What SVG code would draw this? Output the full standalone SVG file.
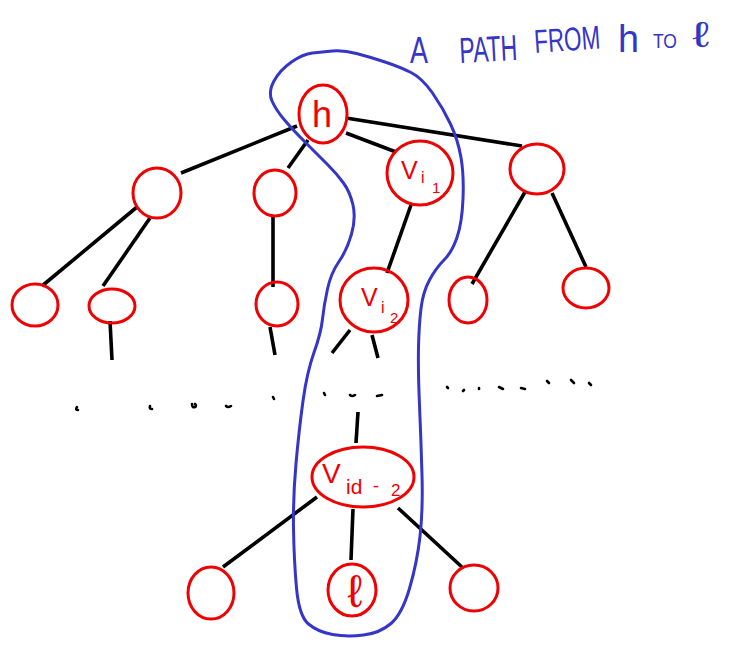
<svg xmlns="http://www.w3.org/2000/svg" width="731" height="647" viewBox="0 0 731 647">
<style>
.edge{stroke:#000;stroke-width:3.6;stroke-linecap:butt;fill:none}
.node{stroke:#f00000;stroke-width:3;fill:none}
.lbl{fill:#f00000;font-family:"Liberation Sans","DejaVu Sans",sans-serif}
.dot{stroke:#000;stroke-width:2.6;stroke-linecap:round;fill:none}
.loop{stroke:#3535c8;stroke-width:3;fill:none;stroke-linejoin:round}
.ttl{fill:#3535c8;font-family:"Liberation Sans","DejaVu Sans",sans-serif}
</style>
<rect width="731" height="647" fill="#fff"/>
<g id="connectors">
<path class="edge" d="M297,126 L181,173"/>
<path class="edge" d="M308,140 L288,168"/>
<path class="edge" d="M346,133 L396,152"/>
<path class="edge" d="M346,118 L522,146"/>
<path class="edge" d="M137,207 L42,286"/>
<path class="edge" d="M150,218 L103,286"/>
<path class="edge" d="M110,321 L112,360"/>
<path class="edge" d="M273,217 L273,287"/>
<path class="edge" d="M270,327 L275,355"/>
<path class="edge" d="M411,205 L387,273"/>
<path class="edge" d="M350,330 L332,353"/>
<path class="edge" d="M372,335 L378,358"/>
<path class="edge" d="M525,192 L472,284"/>
<path class="edge" d="M552,193 L586,267"/>
<path class="edge" d="M358,412 L356,443"/>
<path class="edge" d="M317,497 L223,567"/>
<path class="edge" d="M353,509 L351,560"/>
<path class="edge" d="M398,508 L463,568"/>
</g>
<g id="dots">
<path class="dot" d="M77,407 q-2,3 1,3"/>
<path class="dot" d="M150,406 q-1,3 2,3"/>
<path class="dot" d="M192,404 q0,4 3,3 q2,-1 0,-3"/>
<path class="dot" d="M226,406 q2,2 5,0"/>
<path class="dot" d="M273,397 l1,2"/>
<path class="dot" d="M324,393 l1,2"/>
<path class="dot" d="M350,395 q2,2 5,0"/>
<path class="dot" d="M377,396 l5,-1"/>
<path class="dot" d="M447,387 l1,1"/>
<path class="dot" d="M463,391 l1,-1"/>
<path class="dot" d="M479,388 l0,1"/>
<path class="dot" d="M499,387 l4,2"/>
<path class="dot" d="M521,388 l4,1"/>
<path class="dot" d="M547,381 l2,2"/>
<path class="dot" d="M571,380 l3,3"/>
<path class="dot" d="M589,383 l2,2"/>
</g>
<g id="n_h">
<ellipse class="node" cx="323" cy="114" rx="24" ry="29"/>
<text class="lbl" x="322" y="127" font-size="36" text-anchor="middle">h</text>
</g>
<g id="n_vi1">
<ellipse class="node" cx="420" cy="173" rx="33" ry="32"/>
<text class="lbl" x="401" y="179" font-size="25">V</text>
<text class="lbl" x="421" y="183" font-size="16">i</text>
<text class="lbl" x="432" y="193" font-size="15">1</text>
</g>
<g id="n_r">
<ellipse class="node" cx="537" cy="169" rx="27" ry="25"/>
</g>
<g id="n_a">
<ellipse class="node" cx="157" cy="193" rx="24" ry="25"/>
</g>
<g id="n_b">
<ellipse class="node" cx="275" cy="193" rx="21" ry="23"/>
</g>
<g id="n_ll">
<ellipse class="node" cx="35" cy="305" rx="23" ry="21"/>
</g>
<g id="n_lr">
<ellipse class="node" cx="112" cy="306" rx="23" ry="17"/>
</g>
<g id="n_lb">
<ellipse class="node" cx="277" cy="304" rx="21" ry="22"/>
</g>
<g id="n_vi2">
<ellipse class="node" cx="374" cy="300" rx="34" ry="32"/>
<text class="lbl" x="361" y="306" font-size="25">V</text>
<text class="lbl" x="381" y="313" font-size="16">i</text>
<text class="lbl" x="390" y="323" font-size="15">2</text>
</g>
<g id="n_rl">
<ellipse class="node" cx="468" cy="300" rx="19" ry="23"/>
</g>
<g id="n_rr">
<ellipse class="node" cx="586" cy="288" rx="23" ry="20"/>
</g>
<g id="n_vid2">
<ellipse class="node" cx="363" cy="477" rx="51" ry="30"/>
<text class="lbl" x="322" y="483" font-size="28">V</text>
<text class="lbl" x="346" y="494" font-size="21">id</text>
<text class="lbl" x="373" y="492" font-size="18">-</text>
<text class="lbl" x="391" y="496" font-size="17">2</text>
</g>
<g id="n_l">
<ellipse class="node" cx="352" cy="590" rx="24" ry="26"/>
<text class="lbl" x="355" y="607" font-size="46" text-anchor="middle">ℓ</text>
</g>
<g id="n_bl">
<ellipse class="node" cx="211" cy="593" rx="23" ry="26"/>
</g>
<g id="n_br">
<ellipse class="node" cx="474" cy="588" rx="24" ry="23"/>
</g>
<g id="path_loop">
<path class="loop" d="M272,101 Q268,92 274,81 Q280,70 291.5,62 Q303,54 312.5,53 Q322,52 332.5,51 Q343,50 356.5,53.5 Q370,57 385,62 Q400,67 411,72.5 Q422,78 432.5,93 Q443,108 450.5,124 Q458,140 461,157.5 Q464,175 463,199 Q462,223 457,237.5 Q452,252 444,260 Q436,268 429.5,280 Q423,292 421,308.5 Q419,325 418.5,347.5 Q418,370 419.5,405 Q421,440 422,475 Q423,510 420,536.5 Q417,563 409.5,588.5 Q402,614 391,623.5 Q380,633 363.5,635 Q347,637 332.5,634.5 Q318,632 308.5,624 Q299,616 296.5,588 Q294,560 293.5,528.5 Q293,497 296,463.5 Q299,430 303,401 Q307,372 314,352.5 Q321,333 322.5,319 Q324,305 327.5,289 Q331,273 339,261.5 Q347,250 351.5,234 Q356,218 353,205 Q350,192 343.5,183 Q337,174 327.5,164.5 Q318,155 305.5,142.5 Q293,130 284.5,120 Q276,110 272,101 Z"/>
</g>
<g id="title">
<text class="ttl" x="410" y="63" font-size="36" textLength="18" lengthAdjust="spacingAndGlyphs">A</text>
<text class="ttl" x="460" y="63" font-size="36" textLength="58" lengthAdjust="spacingAndGlyphs" transform="rotate(-3 460 63)">PATH</text>
<text class="ttl" x="535" y="53" font-size="33" textLength="66" lengthAdjust="spacingAndGlyphs" transform="rotate(-4 535 53)">FROM</text>
<text class="ttl" x="618" y="52" font-size="38" textLength="21" lengthAdjust="spacingAndGlyphs">h</text>
<text class="ttl" x="653" y="48" font-size="21" textLength="24" lengthAdjust="spacingAndGlyphs">TO</text>
<text class="ttl" x="692" y="47" font-size="36" textLength="17" lengthAdjust="spacingAndGlyphs">ℓ</text>
</g>
</svg>
